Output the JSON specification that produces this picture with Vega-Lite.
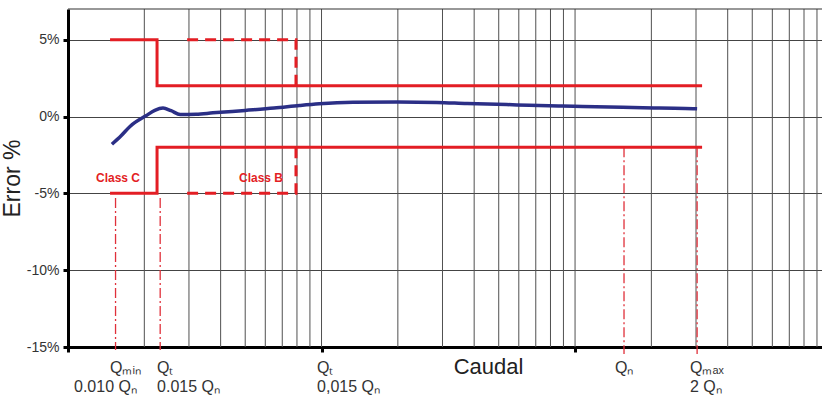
{
  "$schema": "https://vega.github.io/schema/vega-lite/v6.json",
  "autosize": {"type": "none"},
  "padding": {"left": 68, "top": 9, "right": 0, "bottom": 49},
  "width": 754,
  "height": 338,
  "background": "#ffffff",
  "config": {
    "view": {"stroke": null},
    "font": "Liberation Sans",
    "axis": {
      "domainColor": "#000000", "domainWidth": 3,
      "tickColor": "#000000", "tickWidth": 3, "tickSize": 5,
      "labelFont": "Liberation Sans", "labelFontSize": 14, "labelColor": "#333333",
      "titleFont": "Liberation Sans", "titleFontWeight": "normal", "titleFontSize": 22, "titleColor": "#222222"
    }
  },
  "datasets": {
    "grid": [
      {"x": 2}, {"x": 3}, {"x": 4}, {"x": 5}, {"x": 6}, {"x": 7}, {"x": 8}, {"x": 9},
      {"x": 10}, {"x": 20}, {"x": 30}, {"x": 40}, {"x": 50}, {"x": 60}, {"x": 70}, {"x": 80}, {"x": 90},
      {"x": 100}, {"x": 200}, {"x": 300}, {"x": 400}, {"x": 500}, {"x": 600}, {"x": 700}, {"x": 800}, {"x": 900}
    ],
    "marks": [
      {"x": 1.54, "y": -5.3, "y2": -15.2},
      {"x": 2.31, "y": -5.3, "y2": -15.2},
      {"x": 156, "y": -2, "y2": -15.45},
      {"x": 303, "y": -2, "y2": -15.45}
    ],
    "classC": [
      {"g": "up", "o": 0, "x": 1.465, "y": 5},
      {"g": "up", "o": 1, "x": 2.245, "y": 5},
      {"g": "up", "o": 2, "x": 2.245, "y": 2},
      {"g": "up", "o": 3, "x": 317, "y": 2},
      {"g": "lo", "o": 0, "x": 1.465, "y": -5},
      {"g": "lo", "o": 1, "x": 2.245, "y": -5},
      {"g": "lo", "o": 2, "x": 2.245, "y": -2},
      {"g": "lo", "o": 3, "x": 317, "y": -2}
    ],
    "classB": [
      {"g": "up", "o": 0, "x": 2.95, "y": 5},
      {"g": "up", "o": 1, "x": 7.93, "y": 5},
      {"g": "up", "o": 2, "x": 7.93, "y": 2},
      {"g": "lo", "o": 0, "x": 2.95, "y": -5},
      {"g": "lo", "o": 1, "x": 7.93, "y": -5},
      {"g": "lo", "o": 2, "x": 7.93, "y": -2}
    ],
    "curve": [
      {"x": 1.49, "y": -1.8}, {"x": 1.62, "y": -1.25}, {"x": 1.76, "y": -0.63}, {"x": 2.03, "y": 0.05},
      {"x": 2.2, "y": 0.4}, {"x": 2.37, "y": 0.55}, {"x": 2.55, "y": 0.38}, {"x": 2.77, "y": 0.13},
      {"x": 3.2, "y": 0.15}, {"x": 3.73, "y": 0.24}, {"x": 5, "y": 0.4}, {"x": 6.5, "y": 0.55},
      {"x": 8.2, "y": 0.72}, {"x": 9.8, "y": 0.83}, {"x": 13.3, "y": 0.93}, {"x": 20, "y": 0.95},
      {"x": 28.5, "y": 0.92}, {"x": 37.5, "y": 0.85}, {"x": 53.8, "y": 0.78}, {"x": 66, "y": 0.73},
      {"x": 89, "y": 0.68}, {"x": 107, "y": 0.66}, {"x": 154, "y": 0.61}, {"x": 185, "y": 0.58},
      {"x": 272, "y": 0.53}, {"x": 303, "y": 0.5}
    ],
    "axisLabels": [
      {"x": 1.465, "y": -16.35, "t": "Qₘᵢₙ"},
      {"x": 1.056, "y": -17.62, "t": "0.010 Qₙ"},
      {"x": 2.245, "y": -16.35, "t": "Qₜ"},
      {"x": 2.245, "y": -17.62, "t": "0.015 Qₙ"},
      {"x": 9.6, "y": -16.35, "t": "Qₜ"},
      {"x": 9.6, "y": -17.62, "t": "0,015 Qₙ"},
      {"x": 143.8, "y": -16.35, "t": "Qₙ"},
      {"x": 284, "y": -16.35, "t": "Qₘₐₓ"},
      {"x": 284, "y": -17.62, "t": "2 Qₙ"}
    ],
    "classLabels": [
      {"x": 1.575, "y": -4.0, "t": "Class C"},
      {"x": 5.77, "y": -4.0, "t": "Class B"}
    ]
  },
  "layer": [
    {
      "data": {"name": "grid"},
      "mark": {"type": "rule", "color": "#505050", "strokeWidth": 1},
      "encoding": {
        "x": {
          "field": "x", "type": "quantitative",
          "scale": {"type": "log", "domain": [1, 942], "nice": false},
          "axis": {"values": [1, 10, 100], "labels": false, "grid": false, "title": "Caudal",
                   "titleX": 420, "titleY": 26, "titleBaseline": "alphabetic", "titleAlign": "center"}
        }
      }
    },
    {
      "data": {"values": [{"y": 7}]},
      "mark": {"type": "rule", "color": "#333333", "strokeWidth": 1.2},
      "encoding": {
        "y": {
          "field": "y", "type": "quantitative",
          "scale": {"domain": [-15, 7], "nice": false, "zero": false},
          "axis": {"values": [-15, -10, -5, 0, 5], "labelExpr": "datum.value + '%'", "grid": true,
                   "gridColor": "#444444", "gridWidth": 1, "labelPadding": 4, "title": "Error %",
                   "titleFontSize": 23, "titlePadding": 2}
        }
      }
    },
    {
      "data": {"name": "marks"},
      "mark": {"type": "rule", "color": "#e0303a", "strokeWidth": 1.3, "strokeDash": [10, 3, 2, 3]},
      "encoding": {
        "x": {"field": "x", "type": "quantitative", "scale": {"type": "log", "domain": [1, 942], "nice": false}},
        "y": {"field": "y", "type": "quantitative", "scale": {"domain": [-15, 7], "nice": false, "zero": false}},
        "y2": {"field": "y2"}
      }
    },
    {
      "data": {"name": "classC"},
      "mark": {"type": "line", "color": "#e31e24", "strokeWidth": 3, "strokeJoin": "miter", "strokeCap": "butt"},
      "encoding": {
        "x": {"field": "x", "type": "quantitative", "scale": {"type": "log", "domain": [1, 942], "nice": false}},
        "y": {"field": "y", "type": "quantitative", "scale": {"domain": [-15, 7], "nice": false, "zero": false}},
        "detail": {"field": "g"},
        "order": {"field": "o"}
      }
    },
    {
      "data": {"name": "classB"},
      "mark": {"type": "line", "color": "#e31e24", "strokeWidth": 3, "strokeDash": [11, 7], "strokeJoin": "miter", "strokeCap": "butt"},
      "encoding": {
        "x": {"field": "x", "type": "quantitative", "scale": {"type": "log", "domain": [1, 942], "nice": false}},
        "y": {"field": "y", "type": "quantitative", "scale": {"domain": [-15, 7], "nice": false, "zero": false}},
        "detail": {"field": "g"},
        "order": {"field": "o"}
      }
    },
    {
      "data": {"name": "curve"},
      "mark": {"type": "line", "color": "#2b2f86", "strokeWidth": 3.5, "interpolate": "monotone"},
      "encoding": {
        "x": {"field": "x", "type": "quantitative", "scale": {"type": "log", "domain": [1, 942], "nice": false}},
        "y": {"field": "y", "type": "quantitative", "scale": {"domain": [-15, 7], "nice": false, "zero": false}}
      }
    },
    {
      "data": {"name": "axisLabels"},
      "mark": {"type": "text", "align": "left", "baseline": "middle", "fontSize": 16, "color": "#333333", "font": "Liberation Sans"},
      "encoding": {
        "x": {"field": "x", "type": "quantitative", "scale": {"type": "log", "domain": [1, 942], "nice": false}},
        "y": {"field": "y", "type": "quantitative", "scale": {"domain": [-15, 7], "nice": false, "zero": false}},
        "text": {"field": "t"}
      }
    },
    {
      "data": {"name": "classLabels"},
      "mark": {"type": "text", "align": "center", "baseline": "middle", "fontSize": 12, "fontWeight": "bold", "color": "#e31e24", "font": "Liberation Sans"},
      "encoding": {
        "x": {"field": "x", "type": "quantitative", "scale": {"type": "log", "domain": [1, 942], "nice": false}},
        "y": {"field": "y", "type": "quantitative", "scale": {"domain": [-15, 7], "nice": false, "zero": false}},
        "text": {"field": "t"}
      }
    }
  ]
}
